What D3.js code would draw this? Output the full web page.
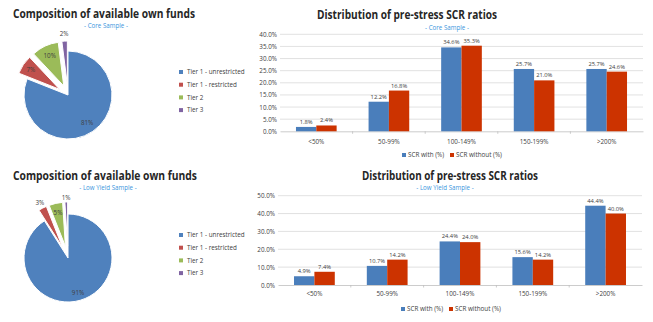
<!DOCTYPE html>
<html>
<head>
<meta charset="utf-8">
<script src="https://cdn.jsdelivr.net/npm/d3@7"></script>
<style>
  html, body { margin: 0; padding: 0; background: #fff; }
  svg { display: block; font-family: "Open Sans", "Liberation Sans", sans-serif; }
</style>
</head>
<body>
<svg id="chart" width="653" height="322"></svg>
<script>
// Own-funds composition by tier (percent of available own funds)
const tierLabels = ["Tier 1 - unrestricted", "Tier 1 - restricted", "Tier 2", "Tier 3"];
const coreTiers = [81, 7, 10, 2];
const lowYieldTiers = [91, 3, 5, 1];

// Pre-stress SCR ratio distribution (percent of participants per band)
const ratioBands = ["<50%", "50-99%", "100-149%", "150-199%", ">200%"];
const seriesNames = ["SCR with (%)", "SCR without (%)"];
const coreWith = [1.8, 12.2, 34.6, 25.7, 25.7];
const coreWithout = [2.4, 16.8, 35.3, 21.0, 24.6];
const lowWith = [4.9, 10.7, 24.4, 15.6, 44.4];
const lowWithout = [7.4, 14.2, 24.0, 14.2, 40.0];
const coreTicks = [0, 5, 10, 15, 20, 25, 30, 35, 40];
const lowTicks = [0, 10, 20, 30, 40, 50];

const pieColors = ["#4f81bd", "#c0504d", "#9bbb59", "#8064a2"];
const barColors = ["#4a7ebb", "#cc3300"];
const subColor = "#3a96dd";
const textColor = "#404040";
const small = 6.3;

const svg = d3.select("#chart");

function title(x, y, text, width, anchor) {
  svg.append("text")
    .attr("x", x).attr("y", y)
    .attr("text-anchor", anchor || "start")
    .attr("font-size", 12).attr("font-weight", "bold")
    .attr("fill", "#262626")
    .attr("textLength", width).attr("lengthAdjust", "spacingAndGlyphs")
    .text(text);
}
function subtitle(x, y, text) {
  svg.append("text")
    .attr("x", x).attr("y", y)
    .attr("text-anchor", "middle")
    .attr("font-size", 6.2).attr("fill", subColor)
    .text(text);
}

// ---------- Pie panels ----------
function piePanel(opts) {
  const g = svg.append("g").attr("transform", `translate(${opts.cx},${opts.cy})`);
  const pie = d3.pie().sort(null).value(d => d).startAngle(0).endAngle(2 * Math.PI);
  const arcs = pie(opts.values);
  const r = opts.r;
  const arc = d3.arc().innerRadius(0).outerRadius(r);
  const slice = g.selectAll("g.slice").data(arcs).enter().append("g")
    .attr("transform", (d, i) => {
      const e = i === 0 ? 0 : opts.explode;
      const a = (d.startAngle + d.endAngle) / 2;
      return `translate(${e * Math.sin(a)},${-e * Math.cos(a)})`;
    });
  slice.append("path")
    .attr("d", arc)
    .attr("fill", (d, i) => pieColors[i])
    .attr("stroke", "#fff").attr("stroke-width", 1);

  // value labels
  slice.append("text")
    .attr("transform", (d, i) => {
      const a = (d.startAngle + d.endAngle) / 2;
      const rr = opts.labelR[i];
      return `translate(${rr * Math.sin(a)},${-rr * Math.cos(a)})`;
    })
    .attr("text-anchor", "middle").attr("dy", "0.35em")
    .attr("font-size", small).attr("fill", textColor)
    .text(d => d.data + "%");

  // legend
  const lg = svg.append("g").attr("transform", `translate(${opts.lx},${opts.ly})`);
  const item = lg.selectAll("g").data(tierLabels).enter().append("g")
    .attr("transform", (d, i) => `translate(0,${i * 12.7})`);
  item.append("rect").attr("x", -2).attr("y", -2).attr("width", 4).attr("height", 4)
    .attr("fill", (d, i) => pieColors[i]);
  item.append("text").attr("x", 6).attr("dy", "0.35em")
    .attr("font-size", small).attr("fill", textColor).text(d => d);
}

title(13, 18, "Composition of available own funds", 182);
subtitle(106, 28, "- Core Sample -");
piePanel({ cx: 68, cy: 95, r: 44, explode: 10, values: coreTiers,
  labelR: [34, 35, 33, 51], lx: 181, ly: 72 });

title(13, 180, "Composition of available own funds", 184);
subtitle(108, 190, "- Low Yield Sample -");
piePanel({ cx: 68, cy: 258, r: 44, explode: 12, values: lowYieldTiers,
  labelR: [36, 50, 34, 48], lx: 181, ly: 235 });

// ---------- Bar panels ----------
function barPanel(opts) {
  const x = d3.scaleBand().domain(ratioBands).range([opts.x0, opts.x1]);
  const y = d3.scaleLinear().domain([0, opts.max]).range([opts.y0, opts.y1]);
  const inner = d3.scaleBand().domain([0, 1]).range([0, x.bandwidth() * 0.56]);
  const offset = x.bandwidth() * 0.22;
  const g = svg.append("g");

  // gridlines
  g.selectAll("line.grid").data(opts.ticks.slice(1)).enter().append("line")
    .attr("x1", opts.x0).attr("x2", opts.x1)
    .attr("y1", d => y(d)).attr("y2", d => y(d))
    .attr("stroke", "#d9d9d9").attr("stroke-width", 0.8);

  // y axis labels
  const yAxis = d3.axisLeft(y).tickValues(opts.ticks).tickSize(0).tickPadding(3)
    .tickFormat(d => d.toFixed(1) + "%");
  const ya = g.append("g").attr("transform", `translate(${opts.x0},0)`).call(yAxis);
  ya.select(".domain").remove();
  ya.selectAll("text").attr("font-size", small).attr("fill", textColor)
    .attr("font-family", "Open Sans, Liberation Sans, sans-serif");

  // x axis
  const xAxis = d3.axisBottom(x).tickSize(0).tickPadding(opts.xPad);
  const xa = g.append("g").attr("transform", `translate(0,${opts.y0})`).call(xAxis);
  xa.select(".domain").attr("stroke", "#bfbfbf").attr("stroke-width", 0.8);
  xa.selectAll("text").attr("font-size", small).attr("fill", textColor)
    .attr("font-family", "Open Sans, Liberation Sans, sans-serif");
  // tick marks at band boundaries
  g.selectAll("line.btick").data(ratioBands.slice(1)).enter().append("line")
    .attr("x1", d => x(d)).attr("x2", d => x(d))
    .attr("y1", opts.y0).attr("y2", opts.y0 + 2.5)
    .attr("stroke", "#bfbfbf").attr("stroke-width", 0.8);

  const series = [opts.withVals, opts.withoutVals];
  series.forEach((vals, s) => {
    g.selectAll(null).data(vals).enter().append("rect")
      .attr("x", (d, i) => x(ratioBands[i]) + offset + inner(s))
      .attr("width", inner.bandwidth())
      .attr("y", d => y(d))
      .attr("height", d => y(0) - y(d))
      .attr("fill", barColors[s]);
    g.selectAll(null).data(vals).enter().append("text")
      .attr("x", (d, i) => x(ratioBands[i]) + offset + inner(s) + inner.bandwidth() / 2)
      .attr("y", d => y(d) - 3)
      .attr("text-anchor", "middle")
      .attr("font-size", 5.8).attr("fill", textColor)
      .text(d => d.toFixed(1) + "%");
  });

  // legend
  const lg = svg.append("g").attr("transform", `translate(${opts.lx},${opts.ly})`);
  const item = lg.selectAll("g").data(seriesNames).enter().append("g")
    .attr("transform", (d, i) => `translate(${i * 48},0)`);
  item.append("rect").attr("x", 0).attr("y", -2).attr("width", 4).attr("height", 4)
    .attr("fill", (d, i) => barColors[i]);
  item.append("text").attr("x", 6).attr("dy", "0.35em")
    .attr("font-size", small).attr("fill", textColor).text(d => d);
}

title(407, 18.5, "Distribution of pre-stress SCR ratios", 180, "middle");
subtitle(447, 29.5, "- Core Sample -");
barPanel({ x0: 280, x1: 643, y0: 131.3, y1: 34.3, max: 40, ticks: coreTicks,
  withVals: coreWith, withoutVals: coreWithout, lx: 402, ly: 155, xPad: 8 });

title(450, 180, "Distribution of pre-stress SCR ratios", 176, "middle");
subtitle(445, 189.5, "- Low Yield Sample -");
barPanel({ x0: 278, x1: 642, y0: 285, y1: 195.7, max: 50, ticks: lowTicks,
  withVals: lowWith, withoutVals: lowWithout, lx: 401, ly: 309, xPad: 7 });
</script>
</body>
</html>
